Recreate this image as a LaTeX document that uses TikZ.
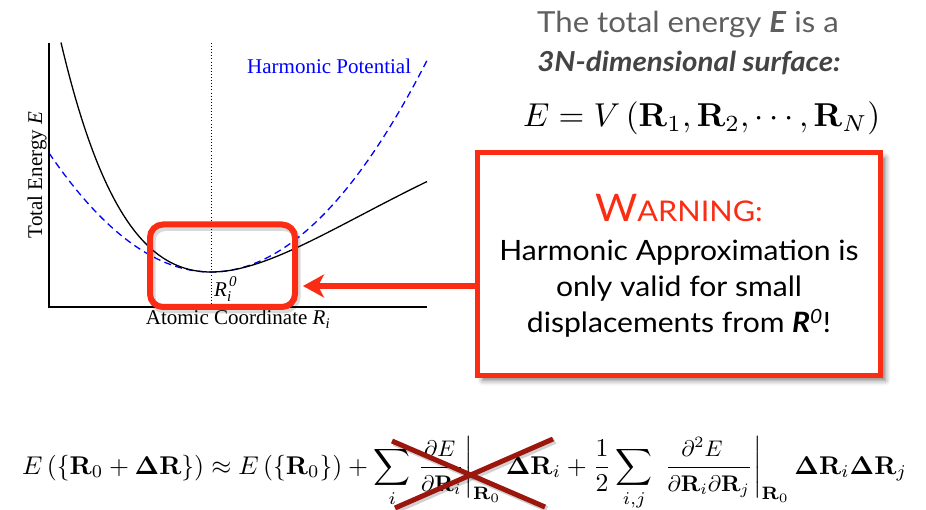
\documentclass[tikz,border=0pt]{standalone}
\usepackage[no-math]{fontspec}
\setmainfont{Liberation Serif}
\newfontfamily\gill[FakeStretch=1.075]{Lato}
\usepackage{graphicx}
\usetikzlibrary{arrows.meta,shadows.blur,calc}
\definecolor{warnred}{RGB}{250,45,20}
\definecolor{crossred}{RGB}{155,22,12}
\definecolor{titlegray}{RGB}{95,95,95}
\definecolor{titledark}{RGB}{68,68,68}
\newcommand{\smallpart}[1]{\scalebox{0.88}{$\displaystyle #1$}}
\begin{document}
\begin{tikzpicture}[x=1pt,y=-1pt,
  axisline/.style={line width=1.6pt,black},
  energy/.style={line width=1.3pt,black},
  harmonic/.style={line width=1.3pt,blue,dash pattern=on 7pt off 4.5pt},
  plotlabel/.style={inner sep=0pt,font=\fontsize{21}{21}\selectfont},
  zoombox/.style={draw=warnred,line width=6pt,rounded corners=13pt,inner sep=0pt,
    minimum width=145pt,minimum height=82.5pt},
  zbshadow/.style={draw=black,opacity=0.15,line width=7pt,rounded corners=13pt},
  warnbox/.style={draw=warnred,fill=white,line width=5pt,inner sep=0pt,
    minimum width=403pt,minimum height=223pt,
    blur shadow={shadow xshift=5pt,shadow yshift=-5pt,shadow blur radius=5pt,shadow opacity=50}},
  pointer/.style={draw=warnred,line width=6pt,-{Stealth[length=21pt,width=23pt,inset=6pt]}},
  warntext/.style={inner sep=0pt,font=\gill\fontsize{28}{28}\selectfont},
  crossline/.style={draw=crossred,line width=5pt},
  crossshadow/.style={draw=black,opacity=0.18,line width=6pt}
]
\useasboundingbox (0,0) rectangle (926,510);

% --- plot ---
\coordinate (ytop) at (49,43);
\coordinate (orig) at (49,307);
\coordinate (xend) at (427,307);
\coordinate (dtop) at (211,43);
\coordinate (dbot) at (211,307);
\draw[line width=0.9pt,dash pattern=on 0.9pt off 2.2pt] (dtop) -- (dbot);
\draw[harmonic] plot[domain=49:427,samples=120]
  (\x,{272-(0.06733*(\x-211))*(0.06733*(\x-211))});
\draw[energy] plot[domain=61:427,samples=150]
  (\x,{272-225*(1-exp(-0.00465*(\x-211)))*(1-exp(-0.00465*(\x-211)))});
\draw[axisline] (ytop) -- (orig) -- (xend);

\node[plotlabel,text=blue,anchor=base west] (hp) at (247,74) {Harmonic Potential};
\node[plotlabel,rotate=90,anchor=base] (ylab) at (42,175) {Total Energy \textit{E}};
\node[plotlabel,anchor=base] (xlab) at (238,325) {Atomic Coordinate \textit{R}\textsubscript{\textit{i}}};
\node[plotlabel,anchor=base west] (rzero) at (214,296.5)
  {\textit{R}\makebox[0pt][l]{\raisebox{-5pt}{\fontsize{15}{15}\selectfont\textit{i}}}\hspace{2pt}\raisebox{10pt}{\fontsize{15}{15}\selectfont\textit{0}}};

% --- highlight box and pointer ---
\path[zbshadow] (152,227.5) rectangle (297,310);
\node[zoombox] (zb) at (222.5,265.75) {};
\coordinate (ay) at (0,286);
\draw[pointer] (620,286) -- ($(zb.east |- ay)+(5,0)$);
\node[warnbox] (warn) at (679,264) {};

% --- warning text ---
\node[inner sep=0pt,anchor=base,text=warnred] (wtitle) at (679,221.5)
  {\gill\fontsize{38}{38}\selectfont W\fontsize{28.5}{28.5}\selectfont ARNING:};
\node[warntext,anchor=base] (wl1) at (679,260.5) {Harmonic Approximation is};
\node[warntext,anchor=base] (wl2) at (679,296.5) {only valid for small};
\node[warntext,anchor=base] (wl3) at (679,333)
  {displacements from \textbf{\textit{R}}\textsuperscript{\textit{0}}!};

% --- title ---
\node[inner sep=0pt,anchor=base,text=titlegray] (t1) at (688,33)
  {\gill\fontsize{29}{29}\selectfont The total energy \textbf{\textit{E}} is a};
\node[inner sep=0pt,anchor=base,text=titledark] (t2) at (689,72)
  {\gill\fontsize{27.5}{27.5}\selectfont\bfseries\itshape 3N-dimensional surface:};

% --- equations ---
\node[inner sep=0pt,anchor=base west] (eqV) at (523,127)
  {\resizebox{357pt}{!}{$E = V\left(\mathbf{R}_1,\mathbf{R}_2,\cdots,\mathbf{R}_N\right)$}};
\node[inner sep=0pt,anchor=base west] (taylor) at (22,474)
  {\resizebox{885pt}{!}{$\displaystyle E\left(\{\mathbf{R}_0+\mathbf{\Delta R}\}\right)\approx E\left(\{\mathbf{R}_0\}\right)+\sum_i \left.\frac{\smallpart{\partial E}}{\smallpart{\partial\mathbf{R}_i}}\right|_{\mathbf{R}_0}\mathbf{\Delta R}_i+\frac{1}{2}\sum_{i,j}\,\left.\frac{\smallpart{\partial^2 E}}{\smallpart{\partial\mathbf{R}_i\partial\mathbf{R}_j}}\right|_{\mathbf{R}_0}\mathbf{\Delta R}_i\mathbf{\Delta R}_j$}};

% --- cross ---
\coordinate (ca) at (392,441);
\coordinate (cb) at (545,507);
\coordinate (cc) at (395,508);
\coordinate (cd) at (553,439);
\draw[crossshadow] ([xshift=2pt,yshift=-2pt]ca) -- ([xshift=2pt,yshift=-2pt]cb);
\draw[crossshadow] ([xshift=2pt,yshift=-2pt]cc) -- ([xshift=2pt,yshift=-2pt]cd);
\draw[crossline] (ca) -- (cb);
\draw[crossline] (cc) -- (cd);
\end{tikzpicture}
\end{document}
